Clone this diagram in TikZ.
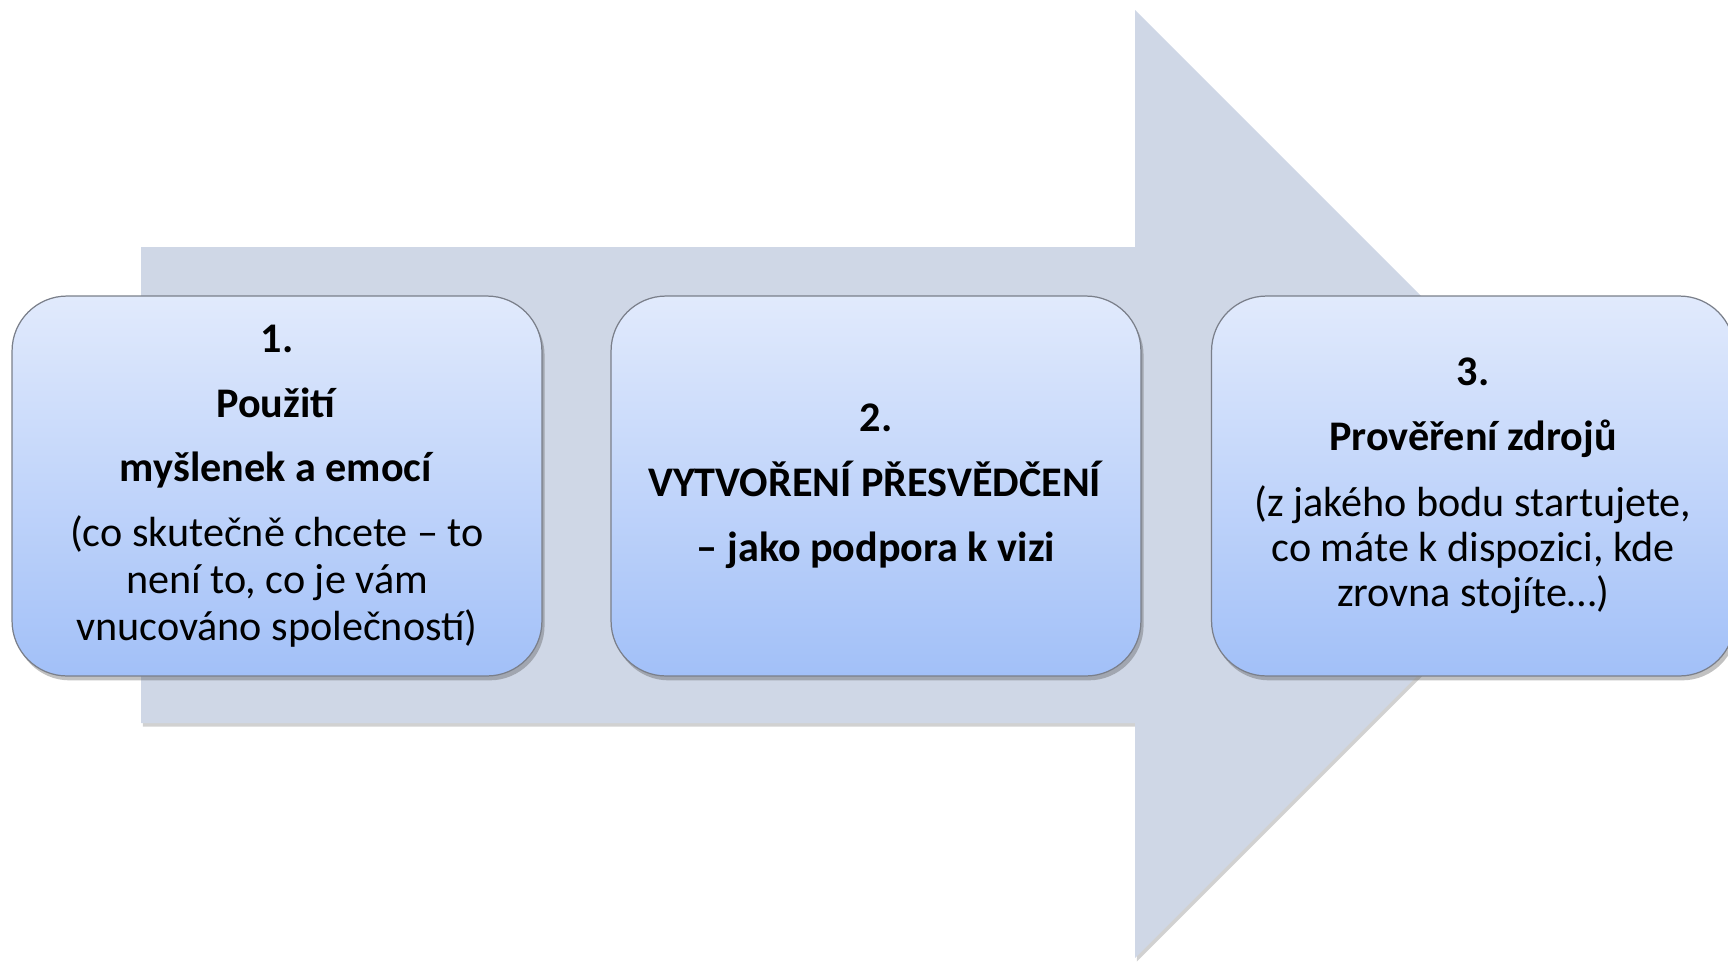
\documentclass[tikz,border=0pt]{standalone}
\usepackage{fontspec}
\setmainfont{Carlito}
\usetikzlibrary{positioning, shadows}
\definecolor{arrowgray}{HTML}{CFD7E6}
\definecolor{boxtop}{HTML}{E1EAFC}
\definecolor{boxbottom}{HTML}{A2C0F8}
\definecolor{boxline}{HTML}{7A7F8A}
\tikzset{
  stage/.style={draw=boxline, line width=0.7pt, rounded corners=1.1cm,
    top color=boxtop, bottom color=boxbottom,
    minimum width=10.6cm, minimum height=7.6cm, align=center,
    font=\fontsize{24}{26.6}\selectfont,
    drop shadow={shadow xshift=1.5pt, shadow yshift=-2.5pt, opacity=0.35, fill=black!70}},
  bigarrow/.style={fill=arrowgray,
    drop shadow={shadow xshift=1pt, shadow yshift=-2pt, opacity=0.3, fill=black!60}},
}

\begin{document}
\begin{tikzpicture}[x=0.02cm, y=-0.02cm]
    \useasboundingbox (0,0) rectangle (1728,961);
    % arrow behind the three stages
    \path [bigarrow] (141,247) -- (1135,247) -- (1135,10) -- (1609,484)
        -- (1135,958) -- (1135,723) -- (141,723) -- cycle;

    \node [stage] (s1) at (277,486) {\textbf{1.}\\[0.36cm]
        \textbf{Použití}\\[0.36cm]
        \textbf{myšlenek a emocí}\\[0.36cm]
        (co skutečně chcete – to\\
        není to, co je vám\\
        vnucováno společností)};
    \node [stage] (s2) at (876,486) {\textbf{2.}\\[0.36cm]
        \textbf{VYTVOŘENÍ PŘESVĚDČENÍ}\\[0.36cm]
        \textbf{– jako podpora k vizi}};
    \node [stage, minimum width=10.46cm, font=\fontsize{24}{25.8}\selectfont] (s3) at (1473,486) {\textbf{3.}\\[0.4cm]
        \textbf{Prověření zdrojů}\\[0.4cm]
        (z jakého bodu startujete,\\
        co máte k dispozici, kde\\
        zrovna stojíte…)};
\end{tikzpicture}
\end{document}
